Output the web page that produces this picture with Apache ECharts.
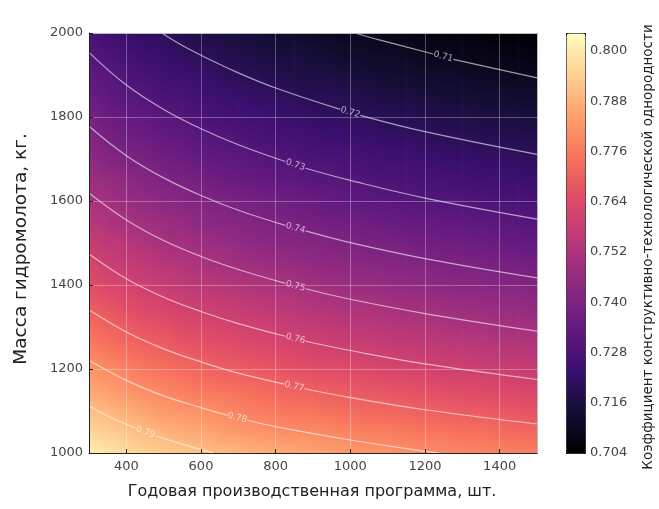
<!DOCTYPE html>
<html>
<head>
<meta charset="utf-8">
<title>Коэффициент конструктивно-технологической однородности</title>
<script src="https://cdn.jsdelivr.net/npm/echarts@6/dist/echarts.min.js"></script>
<style>
  html, body { margin: 0; padding: 0; background: #fff; }
  #main { width: 659px; height: 509px; }
</style>
</head>
<body>
<div id="main"></div>
<script>
// годовая программа, шт. (узлы сетки по оси X)
var programX = [300, 350, 400, 450, 500, 550, 600, 650, 700, 750, 800, 850, 900,
    950, 1000, 1050, 1100, 1150, 1200, 1250, 1300, 1350, 1400, 1450, 1500];
// масса гидромолота, кг. (узлы сетки по оси Y, снизу вверх)
var massY = [1000, 1050, 1100, 1150, 1200, 1250, 1300, 1350, 1400, 1450, 1500,
    1550, 1600, 1650, 1700, 1750, 1800, 1850, 1900, 1950, 2000];
// коэффициент, по строкам massY, по столбцам programX
var coefRows = [
    [0.801,0.799,0.797,0.795,0.794,0.792,0.791,0.790,0.789,0.788,0.787,0.786,0.785,0.784,0.783,0.782,0.782,0.781,0.780,0.780,0.779,0.779,0.778,0.778,0.777],
    [0.796,0.794,0.792,0.790,0.788,0.787,0.786,0.784,0.783,0.782,0.781,0.780,0.780,0.779,0.778,0.777,0.777,0.776,0.775,0.775,0.774,0.774,0.773,0.772,0.772],
    [0.791,0.789,0.787,0.785,0.783,0.782,0.781,0.780,0.778,0.777,0.776,0.775,0.775,0.774,0.773,0.772,0.772,0.771,0.770,0.770,0.769,0.769,0.768,0.767,0.767],
    [0.786,0.784,0.782,0.780,0.779,0.777,0.776,0.775,0.774,0.773,0.772,0.771,0.770,0.769,0.768,0.768,0.767,0.766,0.766,0.765,0.764,0.764,0.763,0.763,0.762],
    [0.782,0.780,0.778,0.776,0.774,0.773,0.771,0.770,0.769,0.768,0.767,0.766,0.765,0.765,0.764,0.763,0.762,0.762,0.761,0.760,0.760,0.759,0.759,0.758,0.758],
    [0.778,0.775,0.773,0.771,0.770,0.768,0.767,0.766,0.765,0.764,0.763,0.762,0.761,0.760,0.759,0.759,0.758,0.757,0.757,0.756,0.756,0.755,0.754,0.754,0.753],
    [0.773,0.771,0.769,0.767,0.766,0.764,0.763,0.762,0.761,0.760,0.759,0.758,0.757,0.756,0.755,0.755,0.754,0.753,0.753,0.752,0.751,0.751,0.750,0.750,0.749],
    [0.769,0.767,0.765,0.763,0.762,0.760,0.759,0.758,0.757,0.756,0.755,0.754,0.753,0.752,0.751,0.751,0.750,0.749,0.749,0.748,0.747,0.747,0.746,0.746,0.745],
    [0.765,0.763,0.761,0.759,0.758,0.756,0.755,0.754,0.753,0.752,0.751,0.750,0.749,0.748,0.747,0.747,0.746,0.745,0.745,0.744,0.743,0.743,0.742,0.742,0.741],
    [0.762,0.759,0.757,0.756,0.754,0.753,0.751,0.750,0.749,0.748,0.747,0.746,0.745,0.744,0.744,0.743,0.742,0.742,0.741,0.740,0.740,0.739,0.739,0.738,0.738],
    [0.758,0.756,0.754,0.752,0.750,0.749,0.748,0.747,0.745,0.744,0.743,0.742,0.742,0.741,0.740,0.739,0.739,0.738,0.737,0.737,0.736,0.736,0.735,0.734,0.734],
    [0.755,0.752,0.750,0.749,0.747,0.746,0.744,0.743,0.742,0.741,0.740,0.739,0.738,0.737,0.737,0.736,0.735,0.734,0.734,0.733,0.733,0.732,0.732,0.731,0.730],
    [0.751,0.749,0.747,0.745,0.744,0.742,0.741,0.740,0.739,0.738,0.737,0.736,0.735,0.734,0.733,0.732,0.732,0.731,0.730,0.730,0.729,0.729,0.728,0.728,0.727],
    [0.748,0.746,0.744,0.742,0.740,0.739,0.738,0.736,0.735,0.734,0.733,0.732,0.731,0.731,0.730,0.729,0.728,0.728,0.727,0.727,0.726,0.725,0.725,0.724,0.724],
    [0.745,0.742,0.740,0.739,0.737,0.736,0.734,0.733,0.732,0.731,0.730,0.729,0.728,0.728,0.727,0.726,0.725,0.725,0.724,0.723,0.723,0.722,0.722,0.721,0.721],
    [0.742,0.739,0.737,0.736,0.734,0.733,0.731,0.730,0.729,0.728,0.727,0.726,0.725,0.724,0.724,0.723,0.722,0.722,0.721,0.720,0.720,0.719,0.719,0.718,0.718],
    [0.739,0.736,0.734,0.733,0.731,0.730,0.728,0.727,0.726,0.725,0.724,0.723,0.722,0.721,0.721,0.720,0.719,0.719,0.718,0.717,0.717,0.716,0.716,0.715,0.715],
    [0.736,0.733,0.731,0.730,0.728,0.727,0.725,0.724,0.723,0.722,0.721,0.720,0.719,0.719,0.718,0.717,0.716,0.716,0.715,0.714,0.714,0.713,0.713,0.712,0.712],
    [0.733,0.731,0.729,0.727,0.725,0.724,0.723,0.721,0.720,0.719,0.718,0.717,0.716,0.716,0.715,0.714,0.713,0.713,0.712,0.712,0.711,0.710,0.710,0.709,0.709],
    [0.730,0.728,0.726,0.724,0.723,0.721,0.720,0.719,0.717,0.716,0.715,0.715,0.714,0.713,0.712,0.711,0.711,0.710,0.709,0.709,0.708,0.708,0.707,0.707,0.706],
    [0.728,0.725,0.723,0.721,0.720,0.718,0.717,0.716,0.715,0.714,0.713,0.712,0.711,0.710,0.709,0.709,0.708,0.707,0.707,0.706,0.706,0.705,0.704,0.704,0.704]
];

// изолинии: уровень и точки [программа, масса]; '-' = разрыв под подпись
var contourLevels = [0.71, 0.72, 0.73, 0.74, 0.75, 0.76, 0.77, 0.78, 0.79];
var contourLines = [
    [[1012,2000],[1080,1983],[1222,1950],'-',[1276,1937],[1500,1893]],
    [[495,2000],[550,1970],[600,1947],[700,1905],[800,1869],[973,1818],'-',[1027,1804],[1200,1765],[1500,1711]],
    [[300,1954],[400,1876],[500,1818],[600,1772],[700,1734],[826,1694],'-',[880,1678],[1000,1649],[1200,1607],[1500,1557]],
    [[300,1778],[400,1708],[500,1655],[600,1613],[700,1578],[826,1542],'-',[880,1529],[1000,1501],[1200,1463],[1500,1417]],
    [[300,1619],[400,1555],[500,1506],[600,1468],[700,1437],[826,1404],'-',[880,1391],[1000,1366],[1200,1332],[1500,1290]],
    [[300,1474],[400,1415],[500,1371],[600,1337],[700,1308],[826,1278],'-',[880,1266],[1000,1244],[1200,1212],[1500,1175]],
    [[300,1341],[400,1288],[500,1248],[600,1217],[700,1190],[823,1164],'-',[877,1153],[1000,1132],[1200,1103],[1500,1069]],
    [[300,1221],[400,1173],[500,1136],[600,1108],[670,1090],'-',[724,1078],[800,1063],[1000,1031],[1200,1004],[1237,1000]],
    [[300,1112],[350,1088],[424,1059],'-',[478,1041],[550,1021],[600,1008],[635,1000]]
];

// шкала цвета
var cbMin = 0.704, cbMax = 0.8043, cbStep = 0.012;
var magma = ['#000004','#140e36','#3b0f70','#641a80','#8c2981','#b73779',
    '#de4968','#f7705c','#fe9f6d','#fecf92','#fcfdbf'];

function toColor(v) {
    var t = (v - cbMin) / (cbMax - cbMin);
    t = Math.max(0, Math.min(1, t));
    return echarts.color.lerp(t, magma);
}

// ячейка между соседними узлами: углы и четыре значения
var cells = [];
for (var j = 0; j < massY.length - 1; j++) {
    for (var i = 0; i < programX.length - 1; i++) {
        cells.push([programX[i], massY[j], programX[i + 1], massY[j + 1],
            coefRows[j][i], coefRows[j][i + 1], coefRows[j + 1][i], coefRows[j + 1][i + 1]]);
    }
}

var chart = echarts.init(document.getElementById('main'));
var font = 'DejaVu Sans';

var series = [{
    type: 'custom',
    xAxisIndex: 0,
    yAxisIndex: 0,
    clip: true,
    silent: true,
    z: 1,
    encode: {x: [0, 2], y: [1, 3]},
    renderItem: function (params, api) {
        var bl = api.coord([api.value(0), api.value(1)]);
        var tr = api.coord([api.value(2), api.value(3)]);
        var v00 = api.value(4), v10 = api.value(5), v01 = api.value(6), v11 = api.value(7);
        var w = tr[0] - bl[0], h = bl[1] - tr[1];
        var cx = (bl[0] + tr[0]) / 2, cy = (bl[1] + tr[1]) / 2;
        var vc = (v00 + v10 + v01 + v11) / 4;
        var gx = ((v10 - v00) + (v11 - v01)) / 2 / w;
        var gy = ((v00 - v01) + (v10 - v11)) / 2 / h;
        var g = Math.sqrt(gx * gx + gy * gy);
        var fill;
        if (g < 1e-9) {
            fill = toColor(vc);
        } else {
            var dx = gx / g, dy = gy / g;
            var s = Math.abs(dx) * w / 2 + Math.abs(dy) * h / 2;
            fill = {
                type: 'linear', global: true,
                x: cx - dx * s, y: cy - dy * s, x2: cx + dx * s, y2: cy + dy * s,
                colorStops: [
                    {offset: 0, color: toColor(vc - g * s)},
                    {offset: 0.5, color: toColor(vc)},
                    {offset: 1, color: toColor(vc + g * s)}
                ]
            };
        }
        return {
            type: 'rect',
            shape: {x: bl[0], y: tr[1], width: w + 0.6, height: h + 0.6},
            style: {fill: fill}
        };
    },
    data: cells
}];
contourLines.forEach(function (line, k) {
    series.push({
        name: String(contourLevels[k]),
        type: 'line',
        xAxisIndex: 0,
        yAxisIndex: 0,
        data: line,
        smooth: 0.4,
        showSymbol: false,
        silent: true,
        connectNulls: false,
        z: 3,
        lineStyle: {color: 'rgba(255,255,255,0.6)', width: 1.2}
    });
});
series.push({
    id: 'levelLabels',
    type: 'scatter',
    xAxisIndex: 0,
    yAxisIndex: 0,
    symbolSize: 1,
    silent: true,
    z: 4,
    itemStyle: {color: 'rgba(0,0,0,0)'},
    label: {
        show: true,
        position: 'inside',
        formatter: '{b}',
        fontSize: 9,
        fontFamily: font,
        color: 'rgba(255,255,255,0.8)'
    },
    data: []
});

function plain(v) { return String(v); }

var option = {
    animation: false,
    textStyle: {fontFamily: font},
    grid: [
        {left: 89, top: 33, width: 448, height: 420},
        {left: 566, top: 33, width: 19, height: 420}
    ],
    xAxis: [{
        gridIndex: 0,
        type: 'value',
        min: 300,
        max: 1500,
        z: 10,
        axisLine: {show: true, lineStyle: {color: '#222', width: 1}},
        axisTick: {show: true, inside: true, length: 4, lineStyle: {color: '#222'}},
        axisLabel: {showMinLabel: false, showMaxLabel: false, margin: 7, fontSize: 13,
            color: '#444', formatter: plain},
        splitLine: {show: true, showMinLine: false, showMaxLine: false,
            lineStyle: {color: 'rgba(255,255,255,0.3)', width: 1}}
    }, {
        gridIndex: 0,
        type: 'value',
        position: 'top',
        min: 300,
        max: 1500,
        z: 10,
        axisLine: {show: true, lineStyle: {color: '#bbb'}},
        axisTick: {show: false},
        axisLabel: {show: false},
        splitLine: {show: false}
    }, {
        gridIndex: 1,
        type: 'value',
        min: 0,
        max: 1,
        show: false
    }],
    yAxis: [{
        gridIndex: 0,
        type: 'value',
        min: 1000,
        max: 2000,
        z: 10,
        axisLine: {show: true, lineStyle: {color: '#222', width: 1}},
        axisTick: {show: true, inside: true, length: 4, lineStyle: {color: '#222'}},
        axisLabel: {margin: 6, fontSize: 13, color: '#444', formatter: plain},
        splitLine: {show: true, showMinLine: false, showMaxLine: false,
            lineStyle: {color: 'rgba(255,255,255,0.3)', width: 1}}
    }, {
        gridIndex: 0,
        type: 'value',
        position: 'right',
        min: 1000,
        max: 2000,
        z: 10,
        axisLine: {show: true, lineStyle: {color: '#bbb'}},
        axisTick: {show: false},
        axisLabel: {show: false},
        splitLine: {show: false}
    }, {
        gridIndex: 1,
        type: 'value',
        position: 'right',
        min: cbMin,
        max: cbMax,
        interval: cbStep,
        axisLine: {show: false},
        axisTick: {show: true, length: 3, lineStyle: {color: '#333'}},
        axisLabel: {
            showMaxLabel: false,
            margin: 5,
            fontSize: 13,
            color: '#444',
            formatter: function (v) { return v.toFixed(3); }
        },
        splitLine: {show: false}
    }],
    visualMap: {
        type: 'continuous',
        seriesIndex: 0,
        dimension: 4,
        min: cbMin,
        max: cbMax,
        calculable: false,
        hoverLink: false,
        left: 566,
        top: 33,
        itemWidth: 19,
        itemHeight: 420,
        padding: 0,
        borderColor: '#111',
        borderWidth: 1,
        inRange: {color: magma}
    },
    graphic: [{
        type: 'text',
        x: 312,
        y: 492,
        style: {
            text: 'Годовая производственная программа, шт.',
            font: '16px "DejaVu Sans"',
            fill: '#222',
            textAlign: 'center', align: 'center',
            textVerticalAlign: 'middle', verticalAlign: 'middle'
        }
    }, {
        type: 'text',
        x: 21,
        y: 249,
        rotation: Math.PI / 2,
        style: {
            text: 'Масса гидромолота, кг.',
            font: '18.5px "DejaVu Sans"',
            fill: '#222',
            textAlign: 'center', align: 'center',
            textVerticalAlign: 'middle', verticalAlign: 'middle'
        }
    }, {
        type: 'text',
        x: 648,
        y: 247,
        rotation: Math.PI / 2,
        style: {
            text: 'Коэффициент конструктивно-технологической однородности',
            font: '13.5px "DejaVu Sans"',
            fill: '#222',
            textAlign: 'center', align: 'center',
            textVerticalAlign: 'middle', verticalAlign: 'middle'
        }
    }],
    series: series
};
chart.setOption(option);

// подписи изолиний ставим в разрыв, наклон берём из самих линий
var labelData = contourLines.map(function (line, k) {
    var cut = line.indexOf('-');
    var p0 = line[cut - 1], p1 = line[cut + 1];
    var a = chart.convertToPixel({gridIndex: 0}, p0);
    var b = chart.convertToPixel({gridIndex: 0}, p1);
    var ang = -Math.atan2(b[1] - a[1], b[0] - a[0]) * 180 / Math.PI;
    return {
        name: contourLevels[k].toFixed(2),
        value: [(p0[0] + p1[0]) / 2, (p0[1] + p1[1]) / 2],
        label: {rotate: ang}
    };
});
chart.setOption({series: [{id: 'levelLabels', data: labelData}]});
</script>
</body>
</html>
